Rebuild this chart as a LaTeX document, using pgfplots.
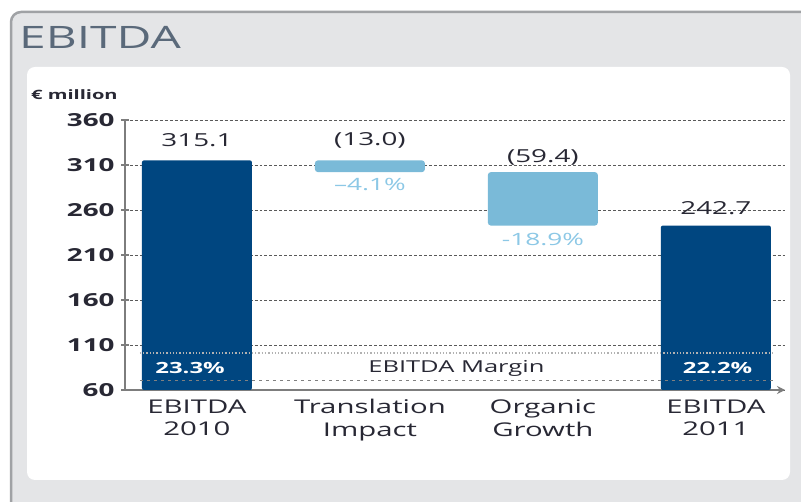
\documentclass[border=0pt]{standalone}
\usepackage{pgfplots}
\pgfplotsset{compat=1.18}
\usetikzlibrary{arrows.meta}
\usepackage{fontspec}
\setmainfont{Open Sans}[FakeStretch=1.55]
\definecolor{dblue}{RGB}{0,70,128}
\definecolor{lblue}{RGB}{122,186,216}
\definecolor{pblue}{RGB}{140,200,230}
\definecolor{panelgrey}{RGB}{228,229,231}
\definecolor{bordergrey}{RGB}{160,162,165}
\definecolor{txt}{RGB}{40,40,52}
\definecolor{titlecol}{RGB}{90,105,122}
\definecolor{axgrey}{RGB}{125,125,125}
\begin{document}
\begin{tikzpicture}[x=1bp,y=1bp]
\useasboundingbox (0,0) rectangle (801,502);
\clip (0,0) rectangle (801,502);
\fill[white] (0,0) rectangle (801,502);
\draw[fill=panelgrey, draw=bordergrey, line width=2.5bp, rounded corners=10bp] (11,-20) rectangle (830,490);
\fill[white, rounded corners=8bp] (27,22) rectangle (790,435);
\node[anchor=west, text=titlecol, font=\fontsize{31}{31}\selectfont, inner sep=0pt] at (19,465) {EBITDA};
\node[anchor=west, text=txt, font=\bfseries\fontsize{13}{13}\selectfont, inner sep=0pt] at (31,407) {€ million};
\begin{axis}[
  at={(125bp,112bp)}, anchor=south west,
  scale only axis, width=660bp, height=270bp,
  xmin=-0.416, xmax=3.40, ymin=60, ymax=360,
  xtick={0,1,2,3},
  xticklabels={{EBITDA\\2010},{Translation\\Impact},{Organic\\Growth},{EBITDA\\2011}},
  xticklabel style={align=center, text=txt, font=\fontsize{19}{23}\selectfont, yshift=-2bp},
  ytick={60,110,160,210,260,310,360},
  yticklabel style={text=txt, font=\bfseries\fontsize{18}{18}\selectfont, xshift=-3bp},
  /pgf/number format/assume math mode=true,
  axis x line=bottom, axis y line=left,
  x axis line style={axgrey, line width=2.5bp, -{Stealth[length=8bp,width=8bp]}},
  y axis line style={axgrey, line width=2.5bp, -},
  xtick style={draw=none},
  ytick style={axgrey, line width=2bp},
  tick align=center, major tick length=8bp,
  ymajorgrids, grid style={densely dashed, black!65, line width=0.9bp},
  clip=true,
]
% EBITDA totals (dark bars)
\addplot[ybar, bar width=110bp, bar shift=0pt, fill=dblue, draw=none, rounded corners=2bp]
  coordinates {(0,315.1) (3,242.7)};
% Translation impact: 315.1 -> 302.1
\addplot[fill=lblue, draw=none, rounded corners=3bp]
  coordinates {(0.682,302.1) (1.318,302.1) (1.318,315.1) (0.682,315.1)} --cycle;
% Organic growth: 302.1 -> 242.7
\addplot[fill=lblue, draw=none, rounded corners=3bp]
  coordinates {(1.682,242.7) (2.318,242.7) (2.318,302.1) (1.682,302.1)} --cycle;
\draw[black!30, dotted, line width=1.3bp] (axis cs:-0.33,101.1) -- (axis cs:3.34,101.1);
\draw[black!50, line width=0.9bp, dash pattern=on 3bp off 4bp] (axis cs:-0.33,71.1) -- (axis cs:3.34,71.1);
\node[text=txt, font=\fontsize{16.5}{16.5}\selectfont] at (axis cs:1.5,84.4) {EBITDA Margin};
\node[text=white, font=\bfseries\fontsize{15.5}{15.5}\selectfont] at (axis cs:-0.04,84.4) {23.3\%};
\node[text=white, font=\bfseries\fontsize{15.5}{15.5}\selectfont] at (axis cs:3.01,84.4) {22.2\%};
\node[text=txt, font=\fontsize{18}{18}\selectfont] at (axis cs:0,337.8) {315.1};
\node[text=txt, font=\fontsize{18}{18}\selectfont] at (axis cs:1,337.8) {(13.0)};
\node[text=txt, font=\fontsize{18}{18}\selectfont] at (axis cs:2,318.9) {(59.4)};
\node[text=txt, font=\fontsize{18}{18}\selectfont] at (axis cs:3,262.2) {242.7};
\node[text=pblue, font=\fontsize{17}{17}\selectfont] at (axis cs:1,287.8) {–4.1\%};
\node[text=pblue, font=\fontsize{17}{17}\selectfont] at (axis cs:2,226.7) {-18.9\%};
\end{axis}
\end{tikzpicture}
\end{document}
